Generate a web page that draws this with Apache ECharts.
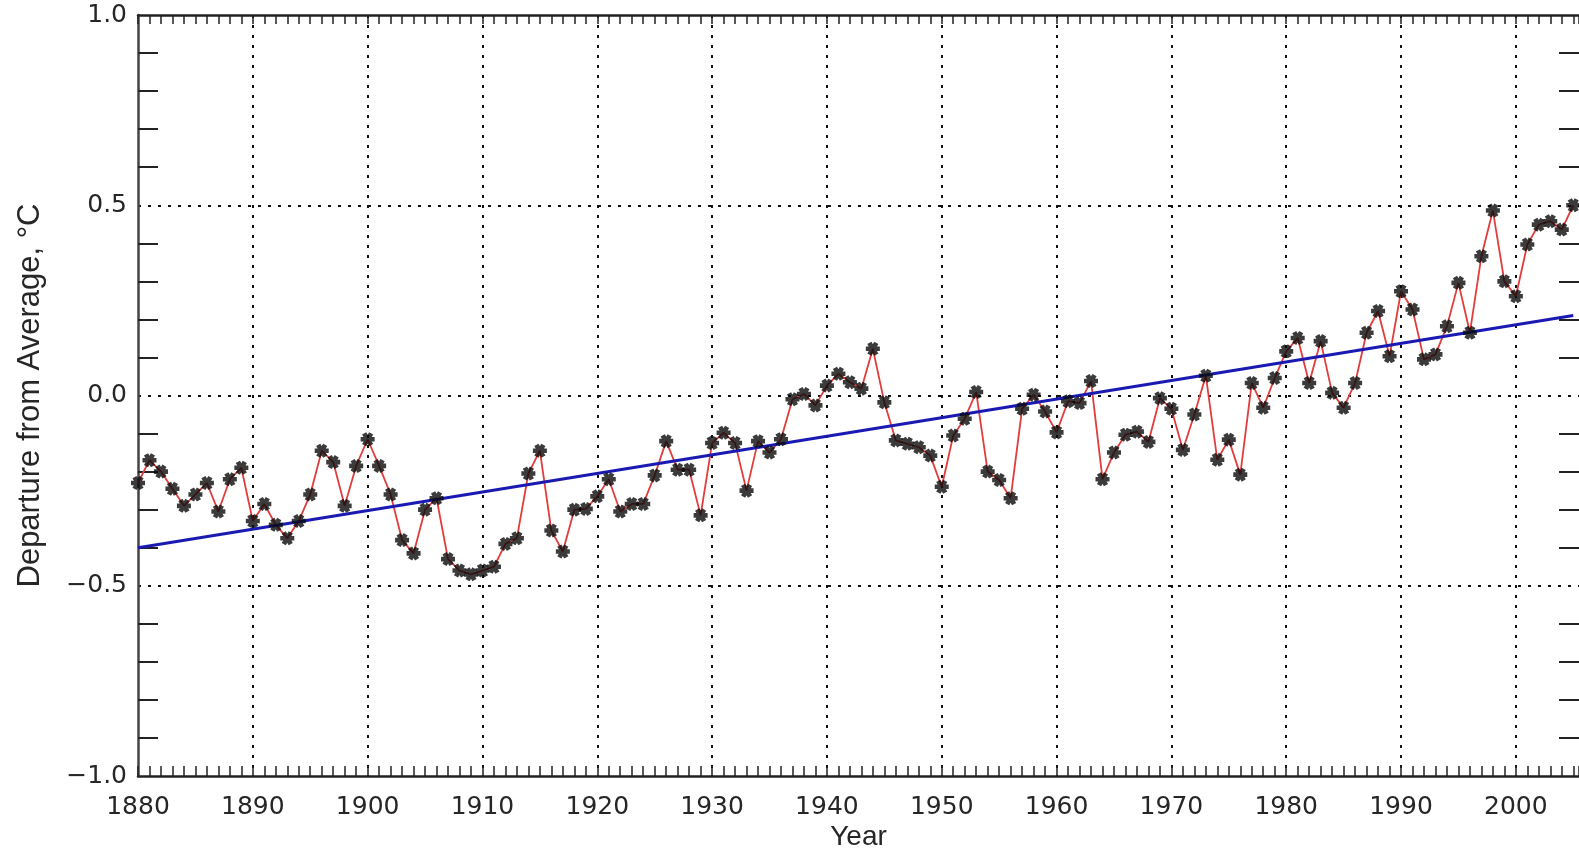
<!DOCTYPE html>
<html>
<head>
<meta charset="utf-8">
<script src="https://cdn.jsdelivr.net/npm/echarts@6/dist/echarts.min.js"></script>
<style>
  html, body { margin: 0; padding: 0; background: #ffffff; }
  #chart { width: 1579px; height: 849px; }
</style>
</head>
<body>
<div id="chart"></div>
<script>
// ---- data ----
const firstYear = 1880;
const anomalies = [
  -0.23, -0.17, -0.20, -0.245, -0.29, -0.26, -0.23, -0.305, -0.22, -0.19,
  -0.33, -0.285, -0.34, -0.375, -0.33, -0.26, -0.145, -0.175, -0.29, -0.185,
  -0.115, -0.185, -0.26, -0.38, -0.415, -0.30, -0.27, -0.43, -0.46, -0.47,
  -0.46, -0.45, -0.39, -0.375, -0.205, -0.145, -0.355, -0.41, -0.30, -0.298,
  -0.265, -0.22, -0.305, -0.285, -0.285, -0.21, -0.12, -0.195, -0.195, -0.315,
  -0.125, -0.098, -0.125, -0.25, -0.12, -0.15, -0.115, -0.01, 0.004, -0.026,
  0.026, 0.057, 0.035, 0.018, 0.123, -0.018, -0.118, -0.127, -0.136, -0.158,
  -0.24, -0.105, -0.061, 0.009, -0.20, -0.222, -0.27, -0.035, 0.002, -0.042,
  -0.097, -0.015, -0.02, 0.038, -0.22, -0.15, -0.103, -0.095, -0.122, -0.007,
  -0.035, -0.143, -0.05, 0.052, -0.169, -0.116, -0.208, 0.033, -0.032, 0.046,
  0.116, 0.151, 0.033, 0.143, 0.007, -0.032, 0.033, 0.165, 0.222, 0.103,
  0.274, 0.226, 0.095, 0.108, 0.182, 0.296, 0.165, 0.366, 0.486, 0.30,
  0.261, 0.397, 0.449, 0.458, 0.436, 0.50
];
const trendYears = [1880, 2005];
const trendValues = [-0.40, 0.21];
const xTickLabels = ['1880', '1890', '1900', '1910', '1920', '1930', '1940', '1950', '1960', '1970', '1980', '1990', '2000'];
const yTickLabels = ['\u22121.0', '\u22120.5', '0.0', '0.5', '1.0'];
const xTitle = 'Year';
const yTitle = 'Departure from Average, \u00B0C';

// ---- build ----
const seriesData = anomalies.map((v, i) => [firstYear + i, v]);
const trendData = trendYears.map((y, i) => [y, trendValues[i]]);

const asterisk = 'path://M-5,-1.7L5,-1.7L5,1.7L-5,1.7Z' +
  'M1.02,5.18L-3.98,-3.48L-1.02,-5.18L3.98,3.48Z' +
  'M-3.98,3.48L1.02,-5.18L3.98,-3.48L-1.02,5.18Z';

const ink = '#222';
const dotted = { color: '#111', width: 2, type: [3, 7] };
const labelFont = { fontFamily: 'DejaVu Sans', fontSize: 25, color: '#262626' };
const X_MIN = 1880, X_MAX = 2005.5;

const tickAxis = (pos, len) => ({
  type: 'value', position: pos, min: X_MIN, max: X_MAX, interval: 1,
  axisLine: { show: pos === 'top', onZero: false, lineStyle: { color: ink, width: 2.5 } },
  axisTick: { show: true, inside: true, length: len, lineStyle: { color: ink, width: 1.5 } },
  axisLabel: { show: false },
  splitLine: { show: false }
});

const chart = echarts.init(document.getElementById('chart'), null, { renderer: 'canvas' });
chart.setOption({
  animation: false,
  backgroundColor: '#ffffff',
  grid: { left: 138, right: 0, top: 15, bottom: 73, containLabel: false, outerBoundsMode: 'none' },
  xAxis: [
    {
      type: 'value', position: 'bottom', min: X_MIN, max: X_MAX, interval: 10,
      axisLine: { show: true, onZero: false, lineStyle: { color: ink, width: 2.5 } },
      axisTick: { show: false },
      axisLabel: Object.assign({
        margin: 19, showMaxLabel: false,
        formatter: (v) => xTickLabels.indexOf(String(v)) >= 0 ? String(v) : ''
      }, labelFont),
      splitLine: { show: true, showMaxLine: false, showMinLine: false, lineStyle: dotted },
      name: xTitle, nameLocation: 'middle', nameGap: 47, nameMoveOverlap: false,
      nameTextStyle: { fontFamily: 'Liberation Sans', fontSize: 28, color: '#262626' }
    },
    tickAxis('bottom', 10),
    tickAxis('top', 9)
  ],
  yAxis: [
    {
      type: 'value', position: 'left', min: -1, max: 1, interval: 0.5,
      axisLine: { show: true, onZero: false, lineStyle: { color: '#444', width: 2.5 } },
      axisTick: { show: true, inside: true, length: 20, lineStyle: { opacity: 0 } },
      minorTick: { show: true, splitNumber: 5, length: 20, lineStyle: { color: ink, width: 2 } },
      axisLabel: Object.assign({
        margin: 11,
        formatter: (v) => yTickLabels[Math.round((v + 1) / 0.5)]
      }, labelFont),
      splitLine: { show: true, showMinLine: false, showMaxLine: false, lineStyle: dotted },
      name: yTitle, nameLocation: 'middle', nameGap: 92, nameRotate: 90, nameMoveOverlap: false,
      nameTextStyle: { fontFamily: 'Liberation Sans', fontSize: 31, color: '#262626' }
    },
    {
      type: 'value', position: 'right', min: -1, max: 1, interval: 0.5,
      axisLine: { show: false, onZero: false },
      axisTick: { show: true, inside: true, length: 20, lineStyle: { opacity: 0 } },
      minorTick: { show: true, splitNumber: 5, length: 20, lineStyle: { color: ink, width: 2 } },
      axisLabel: { show: false },
      splitLine: { show: false }
    }
  ],
  series: [
    {
      type: 'line', data: seriesData, showSymbol: false, z: 2,
      lineStyle: { color: '#e23c3c', width: 1.8 }
    },
    {
      type: 'line', data: trendData, showSymbol: false, z: 3,
      lineStyle: { color: '#1a1ab2', width: 3 }
    },
    {
      type: 'scatter', data: seriesData, symbol: asterisk, symbolSize: 14, z: 4,
      itemStyle: { color: '#0a0a0a' }
    }
  ]
});
</script>
</body>
</html>
